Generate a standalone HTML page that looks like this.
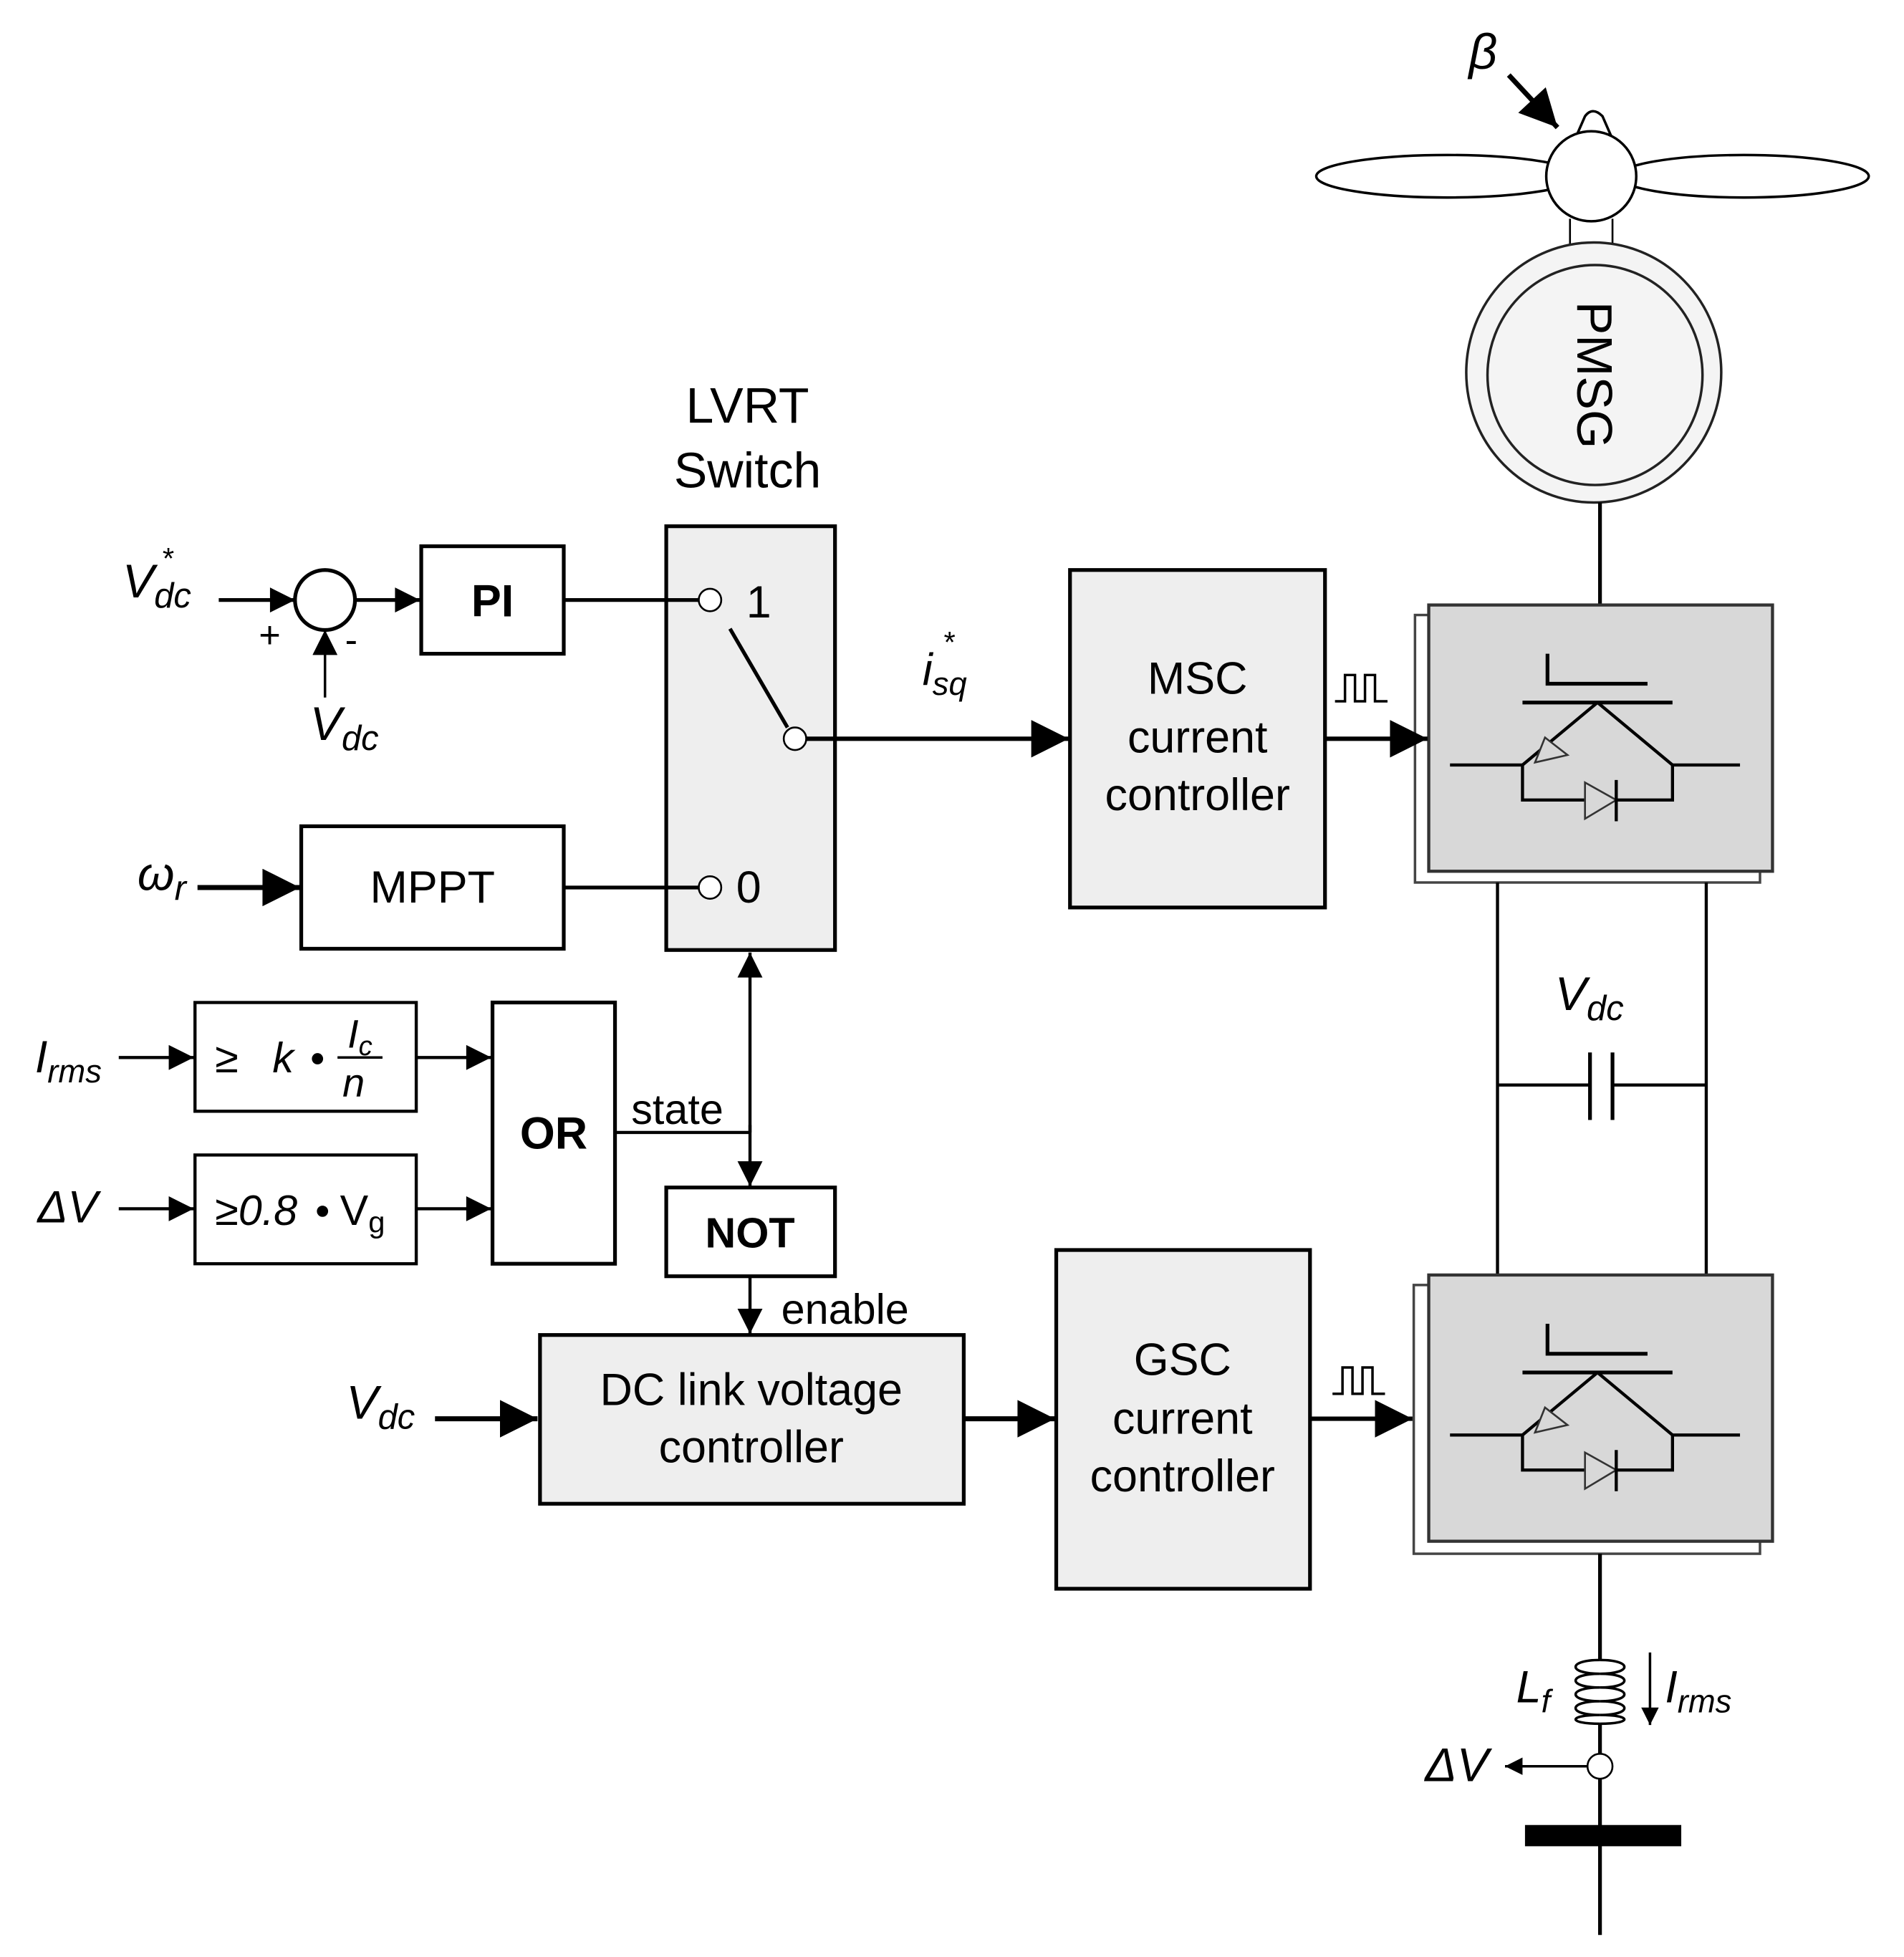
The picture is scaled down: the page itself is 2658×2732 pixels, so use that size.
<!DOCTYPE html>
<html><head><meta charset="utf-8"><style>
html,body{margin:0;padding:0;background:#fff;}
svg{display:block;}
text{font-family:"Liberation Sans",Arial,sans-serif;fill:#000;}
.it{font-style:italic;}
</style></head><body>
<svg width="2658" height="2732" viewBox="0 0 1523.2 1565.6" preserveAspectRatio="none" xmlns="http://www.w3.org/2000/svg">
<defs>
<marker id="a" viewBox="0 0 10 10" refX="10" refY="5" markerWidth="32" markerHeight="30" markerUnits="userSpaceOnUse" orient="auto"><path d="M0,0 L10,5 L0,10 z" fill="#000"/></marker>
<marker id="s" viewBox="0 0 10 10" refX="10" refY="5" markerWidth="22" markerHeight="20" markerUnits="userSpaceOnUse" orient="auto"><path d="M0,0 L10,5 L0,10 z" fill="#000"/></marker>
<marker id="s2" viewBox="0 0 10 10" refX="10" refY="5" markerWidth="18" markerHeight="14" markerUnits="userSpaceOnUse" orient="auto"><path d="M0,0 L10,5 L0,10 z" fill="#000"/></marker>
<marker id="bb" viewBox="0 0 10 10" refX="10" refY="5" markerWidth="34" markerHeight="30" markerUnits="userSpaceOnUse" orient="auto"><path d="M0,0 L10,5 L0,10 z" fill="#000"/></marker>
<g id="igbt">
<polyline points="1238,523 1238,547 1318,547" fill="none" stroke="#000" stroke-width="3"/>
<line x1="1218" y1="562" x2="1338" y2="562" stroke="#000" stroke-width="3"/>
<line x1="1278" y1="562" x2="1218" y2="612" stroke="#000" stroke-width="2.5"/>
<line x1="1278" y1="562" x2="1338" y2="612" stroke="#000" stroke-width="2.5"/>
<path d="M1236,590 L1254,604 L1228,610 z" fill="#d8d8d8" stroke="#333" stroke-width="1.5"/>
<line x1="1160" y1="612" x2="1218" y2="612" stroke="#000" stroke-width="2.5"/>
<line x1="1338" y1="612" x2="1392" y2="612" stroke="#000" stroke-width="2.5"/>
<polyline points="1218,612 1218,640 1338,640 1338,612" fill="none" stroke="#000" stroke-width="2.5"/>
<path d="M1268,626 L1293,640 L1268,655 z" fill="#d8d8d8" stroke="#333" stroke-width="1.5"/>
<line x1="1293" y1="624" x2="1293" y2="657" stroke="#000" stroke-width="2.5"/>
</g>
</defs>

<!-- turbine -->
<text x="1175" y="55" class="it" font-size="40">β</text>
<line x1="1207" y1="60" x2="1246" y2="102" stroke="#000" stroke-width="4" marker-end="url(#bb)"/>
<path d="M1254,125 L1268,93 Q1274,85 1282,93 L1296,125 z" fill="#fff" stroke="#000" stroke-width="2"/>
<ellipse cx="1158" cy="141" rx="105" ry="17" fill="#fff" stroke="#000" stroke-width="2"/>
<ellipse cx="1395" cy="141" rx="100" ry="17" fill="#fff" stroke="#000" stroke-width="2"/>
<line x1="1256" y1="175" x2="1256" y2="205" stroke="#000" stroke-width="1.5"/>
<line x1="1290" y1="175" x2="1290" y2="205" stroke="#000" stroke-width="1.5"/>
<circle cx="1273" cy="141" r="36" fill="#fff" stroke="#000" stroke-width="2"/>
<ellipse cx="1275" cy="298" rx="102" ry="104" fill="#f4f4f4" stroke="#222" stroke-width="2"/>
<ellipse cx="1276" cy="300" rx="86" ry="88" fill="#f4f4f4" stroke="#222" stroke-width="2"/>
<text x="0" y="0" font-size="40" text-anchor="middle" transform="translate(1262,300) rotate(90)">PMSG</text>
<line x1="1280" y1="402" x2="1280" y2="485" stroke="#000" stroke-width="3"/>

<!-- MSC converter -->
<rect x="1132" y="492" width="276" height="214" fill="#fff" stroke="#444" stroke-width="2"/>
<rect x="1143" y="484" width="275" height="213" fill="#d8d8d8" stroke="#333" stroke-width="2.5"/>
<use href="#igbt"/>
<!-- DC link -->
<line x1="1198" y1="706" x2="1198" y2="1021" stroke="#000" stroke-width="2.5"/>
<line x1="1365" y1="706" x2="1365" y2="1021" stroke="#000" stroke-width="2.5"/>
<line x1="1198" y1="868" x2="1272" y2="868" stroke="#000" stroke-width="2.5"/>
<line x1="1290" y1="868" x2="1365" y2="868" stroke="#000" stroke-width="2.5"/>
<line x1="1272" y1="842" x2="1272" y2="896" stroke="#000" stroke-width="3"/>
<line x1="1290" y1="842" x2="1290" y2="896" stroke="#000" stroke-width="3"/>
<text x="1244" y="808" class="it" font-size="38">V<tspan font-size="28" dy="8">dc</tspan></text>
<!-- GSC converter -->
<rect x="1131" y="1028" width="277" height="215" fill="#fff" stroke="#444" stroke-width="2"/>
<rect x="1143" y="1020" width="275" height="213" fill="#d8d8d8" stroke="#333" stroke-width="2.5"/>
<use href="#igbt" transform="translate(0,536)"/>
<!-- grid side -->
<line x1="1280" y1="1243" x2="1280" y2="1328" stroke="#000" stroke-width="3"/>
<path d="M1280,1328 c-26,0 -26,11 0,11 c-26,0 -26,11 0,11 c-26,0 -26,11 0,11 c-26,0 -26,11 0,11 c-26,0 -26,7 0,7" fill="none" stroke="#000" stroke-width="2"/>
<path d="M1280,1328 c26,0 26,11 0,11 c26,0 26,11 0,11 c26,0 26,11 0,11 c26,0 26,11 0,11 c26,0 26,7 0,7" fill="none" stroke="#000" stroke-width="2"/>
<line x1="1280" y1="1379" x2="1280" y2="1403" stroke="#000" stroke-width="3"/>
<circle cx="1280" cy="1413" r="10" fill="#fff" stroke="#000" stroke-width="1.5"/>
<line x1="1280" y1="1423" x2="1280" y2="1548" stroke="#000" stroke-width="3"/>
<rect x="1220" y="1460" width="125" height="17" fill="#000"/>
<text x="1213" y="1362" class="it" font-size="36">L<tspan font-size="26" dy="8">f</tspan></text>
<line x1="1320" y1="1322" x2="1320" y2="1380" stroke="#000" stroke-width="2" marker-end="url(#s2)"/>
<text x="1332" y="1362" class="it" font-size="36">I<tspan font-size="26" dy="8">rms</tspan></text>
<line x1="1270" y1="1413" x2="1204" y2="1413" stroke="#000" stroke-width="2" marker-end="url(#s2)"/>
<text x="1140" y="1425" class="it" font-size="38">ΔV</text>

<!-- LVRT switch -->
<text x="598" y="338" font-size="40" text-anchor="middle">LVRT</text>
<text x="598" y="390" font-size="40" text-anchor="middle">Switch</text>
<rect x="533" y="421" width="135" height="339" fill="#eeeeee" stroke="#000" stroke-width="3"/>
<line x1="451" y1="480" x2="559" y2="480" stroke="#000" stroke-width="3"/>
<line x1="451" y1="710" x2="559" y2="710" stroke="#000" stroke-width="3"/>
<circle cx="568" cy="480" r="9" fill="#fff" stroke="#000" stroke-width="1.5"/>
<circle cx="568" cy="710" r="9" fill="#fff" stroke="#000" stroke-width="1.5"/>
<circle cx="636" cy="591" r="9" fill="#fff" stroke="#000" stroke-width="1.5"/>
<line x1="584" y1="503" x2="630" y2="582" stroke="#000" stroke-width="3"/>
<text x="597" y="494" font-size="36">1</text>
<text x="589" y="722" font-size="36">0</text>
<line x1="645" y1="591" x2="855" y2="591" stroke="#000" stroke-width="3.5" marker-end="url(#a)"/>
<text x="738" y="548" class="it" font-size="36">i<tspan font-size="26" dy="8">sq</tspan></text>
<text x="755" y="522" font-size="24">*</text>

<!-- MSC controller -->
<rect x="856" y="456" width="204" height="270" fill="#eeeeee" stroke="#000" stroke-width="3"/>
<text x="958" y="555" font-size="36" text-anchor="middle">MSC</text>
<text x="958" y="602" font-size="36" text-anchor="middle">current</text>
<text x="958" y="648" font-size="36" text-anchor="middle">controller</text>
<line x1="1060" y1="591" x2="1142" y2="591" stroke="#000" stroke-width="3.5" marker-end="url(#a)"/>
<polyline points="1068,561 1076,561 1076,540 1084,540 1084,561 1092,561 1092,540 1100,540 1100,561 1110,561" fill="none" stroke="#000" stroke-width="2"/>

<!-- PI path -->
<text x="98" y="478" class="it" font-size="38">V<tspan font-size="28" dy="8">dc</tspan></text>
<text x="130" y="455" font-size="24">*</text>
<line x1="175" y1="480" x2="236" y2="480" stroke="#000" stroke-width="3" marker-end="url(#s)"/>
<circle cx="260" cy="480" r="24" fill="#fff" stroke="#000" stroke-width="3"/>
<text x="207" y="518" font-size="30">+</text>
<text x="276" y="522" font-size="30">-</text>
<line x1="260" y1="558" x2="260" y2="504" stroke="#000" stroke-width="2" marker-end="url(#s)"/>
<text x="248" y="592" class="it" font-size="38">V<tspan font-size="28" dy="8">dc</tspan></text>
<line x1="284" y1="480" x2="336" y2="480" stroke="#000" stroke-width="3" marker-end="url(#s)"/>
<rect x="337" y="437" width="114" height="86" fill="#fff" stroke="#000" stroke-width="3"/>
<text x="394" y="493" font-size="36" font-weight="bold" text-anchor="middle">PI</text>

<!-- MPPT -->
<text x="110" y="712" class="it" font-size="38">ω<tspan font-size="28" dy="8">r</tspan></text>
<line x1="158" y1="710" x2="240" y2="710" stroke="#000" stroke-width="4" marker-end="url(#a)"/>
<rect x="241" y="661" width="210" height="98" fill="#fff" stroke="#000" stroke-width="3"/>
<text x="346" y="722" font-size="36" text-anchor="middle">MPPT</text>

<!-- threshold blocks -->
<text x="28" y="858" class="it" font-size="36">I<tspan font-size="26" dy="8">rms</tspan></text>
<line x1="95" y1="846" x2="155" y2="846" stroke="#000" stroke-width="2.5" marker-end="url(#s)"/>
<rect x="156" y="802" width="177" height="87" fill="#fff" stroke="#000" stroke-width="2.5"/>
<text x="172" y="858" font-size="34">≥</text>
<text x="218" y="858" class="it" font-size="34">k</text>
<circle cx="254" cy="847" r="4.5" fill="#000"/>
<text x="278" y="838" class="it" font-size="32">I<tspan font-size="22" dy="6">c</tspan></text>
<line x1="270" y1="846" x2="306" y2="846" stroke="#000" stroke-width="2"/>
<text x="274" y="877" class="it" font-size="32">n</text>
<line x1="333" y1="846" x2="393" y2="846" stroke="#000" stroke-width="2.5" marker-end="url(#s)"/>

<text x="30" y="978" class="it" font-size="36">ΔV</text>
<line x1="95" y1="967" x2="155" y2="967" stroke="#000" stroke-width="2.5" marker-end="url(#s)"/>
<rect x="156" y="924" width="177" height="87" fill="#fff" stroke="#000" stroke-width="2.5"/>
<text x="172" y="980" font-size="34">≥<tspan class="it">0.8</tspan></text>
<circle cx="258" cy="969" r="4.5" fill="#000"/>
<text x="272" y="980" font-size="34">V<tspan font-size="24" dy="6">g</tspan></text>
<line x1="333" y1="967" x2="393" y2="967" stroke="#000" stroke-width="2.5" marker-end="url(#s)"/>

<rect x="394" y="802" width="98" height="209" fill="#fff" stroke="#000" stroke-width="3"/>
<text x="443" y="919" font-size="36" font-weight="bold" text-anchor="middle">OR</text>
<polyline points="492,906 600,906" fill="none" stroke="#000" stroke-width="2.5"/>
<text x="505" y="899" font-size="34">state</text>
<line x1="600" y1="906" x2="600" y2="762" stroke="#000" stroke-width="2.5" marker-end="url(#s)"/>
<line x1="600" y1="900" x2="600" y2="949" stroke="#000" stroke-width="2.5" marker-end="url(#s)"/>

<rect x="533" y="950" width="135" height="71" fill="#fff" stroke="#000" stroke-width="3"/>
<text x="600" y="998" font-size="34" font-weight="bold" text-anchor="middle">NOT</text>
<line x1="600" y1="1021" x2="600" y2="1067" stroke="#000" stroke-width="2.5" marker-end="url(#s)"/>
<text x="625" y="1059" font-size="34">enable</text>

<!-- DC link controller -->
<text x="277" y="1135" class="it" font-size="38">V<tspan font-size="28" dy="8">dc</tspan></text>
<line x1="348" y1="1135" x2="430" y2="1135" stroke="#000" stroke-width="4" marker-end="url(#a)"/>
<rect x="432" y="1068" width="339" height="135" fill="#eeeeee" stroke="#000" stroke-width="3"/>
<text x="601" y="1124" font-size="36" text-anchor="middle">DC link voltage</text>
<text x="601" y="1170" font-size="36" text-anchor="middle">controller</text>
<line x1="771" y1="1135" x2="844" y2="1135" stroke="#000" stroke-width="4" marker-end="url(#a)"/>

<rect x="845" y="1000" width="203" height="271" fill="#eeeeee" stroke="#000" stroke-width="3"/>
<text x="946" y="1100" font-size="36" text-anchor="middle">GSC</text>
<text x="946" y="1147" font-size="36" text-anchor="middle">current</text>
<text x="946" y="1193" font-size="36" text-anchor="middle">controller</text>
<line x1="1048" y1="1135" x2="1130" y2="1135" stroke="#000" stroke-width="3.5" marker-end="url(#a)"/>
<polyline points="1066,1115 1074,1115 1074,1094 1082,1094 1082,1115 1090,1115 1090,1094 1098,1094 1098,1115 1108,1115" fill="none" stroke="#000" stroke-width="2"/>
</svg>
</body></html>
